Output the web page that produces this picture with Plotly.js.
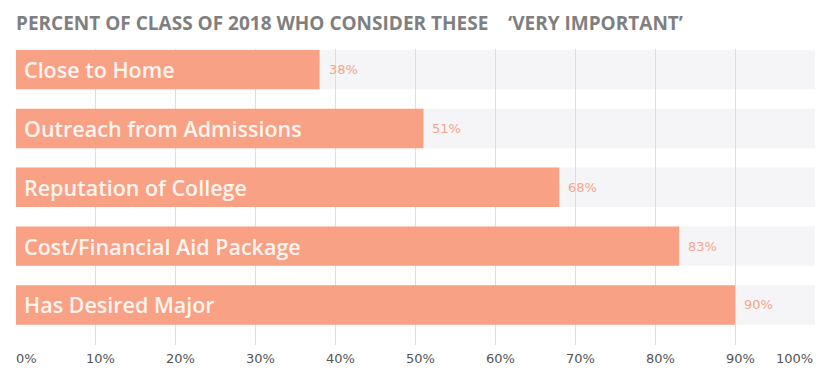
<!DOCTYPE html>
<html>
<head>
<meta charset="utf-8">
<script src="https://cdn.plot.ly/plotly-3.0.1.min.js"></script>
<style>html,body{margin:0;padding:0;background:#fff;}#chart{width:826px;height:381px;}</style>
</head>
<body>
<div id="chart"></div>
<script>
const categories = ["Close to Home", "Outreach from Admissions", "Reputation of College", "Cost/Financial Aid Package", "Has Desired Major"];
const values = [38, 51, 68, 83, 90];
const maxValue = 100;
const tickValues = [0, 10, 20, 30, 40, 50, 60, 70, 80, 90, 100];
const tickLabels = ["0%", "10%", "20%", "30%", "40%", "50%", "60%", "70%", "80%", "90%", "100%"];
const titleText = "PERCENT OF CLASS OF 2018 WHO CONSIDER THESE\u00a0\u00a0\u00a0\u00a0\u2018VERY IMPORTANT\u2019";

const barColor = "#f9a184";
const bandHalf = 0.335;
const tickFont = {family: "DejaVu Sans, sans-serif", size: 13, color: "#555"};

const trace = {
  type: "bar",
  orientation: "h",
  x: values,
  y: categories,
  marker: {color: barColor, line: {width: 0}},
  width: bandHalf * 2,
  hoverinfo: "skip"
};

const shapes = categories.map((c, i) => ({
  type: "rect", layer: "below", xref: "x", yref: "y",
  x0: 0, x1: maxValue, y0: i - bandHalf, y1: i + bandHalf,
  fillcolor: "#f5f4f6", line: {width: 0}
}));

const annotations = [];
categories.forEach((c, i) => {
  annotations.push({
    x: 0, y: c, xref: "x", yref: "y", text: c, showarrow: false,
    xanchor: "left", yanchor: "middle", xshift: 6,
    font: {family: "Open Sans, sans-serif", size: 21.5, color: "#fff4ef", weight: 600}
  });
  annotations.push({
    x: values[i], y: c, xref: "x", yref: "y", text: values[i] + "%", showarrow: false,
    xanchor: "left", yanchor: "middle", xshift: 7,
    font: {family: "DejaVu Sans, sans-serif", size: 13, color: "#f2a68b"}
  });
});
// tick labels: first left-aligned at its gridline, last right-aligned, the rest slightly shifted
tickValues.forEach((v, i) => {
  const first = i === 0, last = i === tickValues.length - 1;
  annotations.push({
    x: v, y: 0, xref: "x", yref: "paper", text: tickLabels[i], showarrow: false,
    xanchor: first ? "left" : (last ? "right" : "center"),
    xshift: first ? -2 : (last ? 0 : 5),
    yanchor: "middle", yshift: -13,
    font: tickFont
  });
});

const layout = {
  width: 826, height: 381,
  margin: {l: 16, r: 11, t: 49, b: 36},
  paper_bgcolor: "#fff", plot_bgcolor: "#fff",
  title: {
    text: titleText, x: 16/826, xref: "container", xanchor: "left", y: 1 - 23/381, yref: "container", yanchor: "middle",
    font: {family: "Open Sans, sans-serif", size: 19, color: "#7f7f7f", weight: 700}
  },
  xaxis: {
    range: [0, maxValue], tickvals: tickValues, showticklabels: false,
    showgrid: true, gridcolor: "#dedede", gridwidth: 1, zeroline: false, showline: false,
    ticks: "", fixedrange: true
  },
  yaxis: {
    type: "category", categoryorder: "array", categoryarray: categories,
    range: [4.68, -0.35], showticklabels: false, showgrid: false, zeroline: false, ticks: ""
  },
  shapes: shapes,
  annotations: annotations,
  showlegend: false
};
Plotly.newPlot("chart", [trace], layout, {displayModeBar: false, staticPlot: true});
</script>
</body>
</html>
